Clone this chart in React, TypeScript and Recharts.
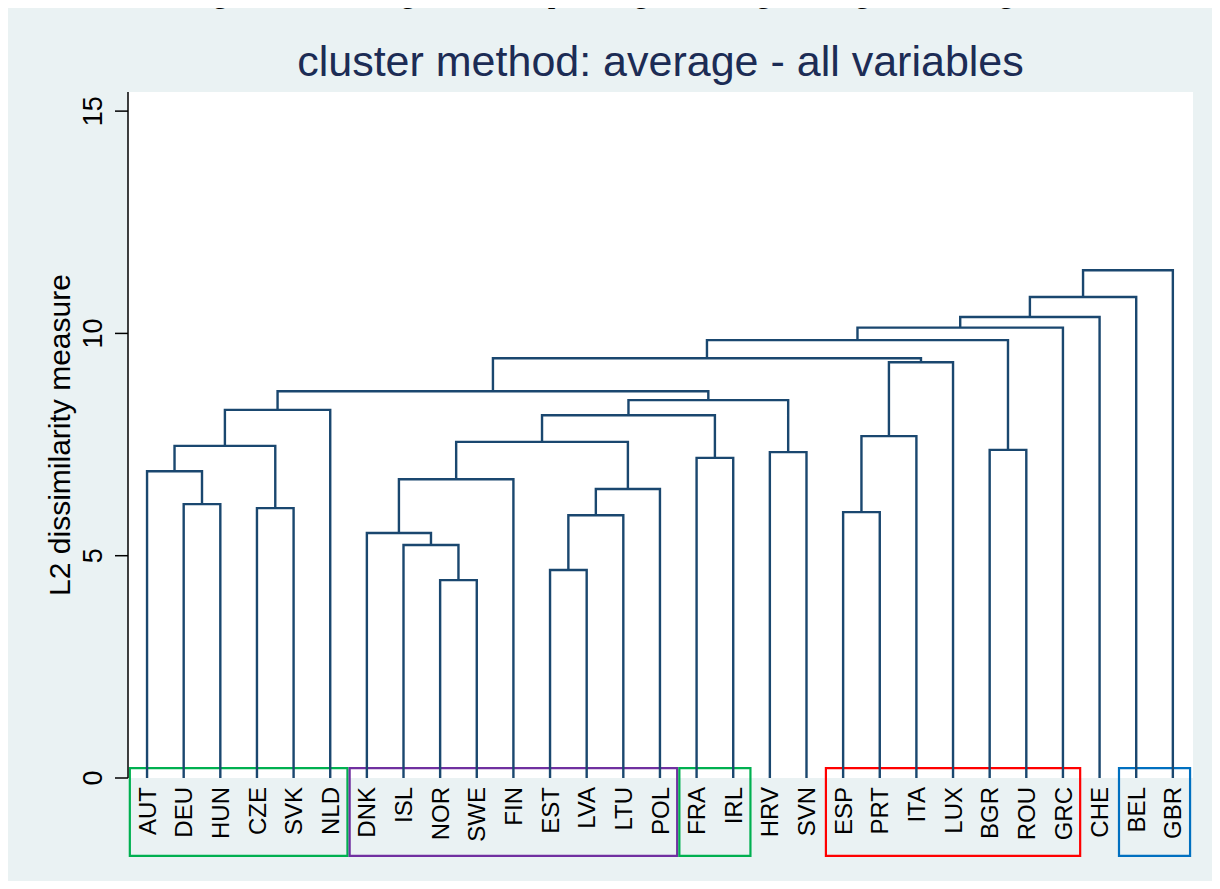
import { CartesianGrid, ComposedChart, Line, ReferenceArea, XAxis, YAxis } from "recharts";

const countries = [
  "AUT", "DEU", "HUN", "CZE", "SVK", "NLD", "DNK", "ISL", "NOR", "SWE", "FIN", "EST", "LVA", "LTU", "POL",
  "FRA", "IRL", "HRV", "SVN", "ESP", "PRT", "ITA", "LUX", "BGR", "ROU", "GRC", "CHE", "BEL", "GBR"
];

const yTicks = [0, 5, 10, 15];

// [left, right, height]: a child is a country code or "#k" for the k-th merge above it
const merges: [string, string, number][] = [
  ["DEU", "HUN", 6.16],
  ["AUT", "#0", 6.9],
  ["CZE", "SVK", 6.07],
  ["#1", "#2", 7.47],
  ["#3", "NLD", 8.28],
  ["NOR", "SWE", 4.45],
  ["ISL", "#5", 5.24],
  ["DNK", "#6", 5.51],
  ["#7", "FIN", 6.72],
  ["EST", "LVA", 4.68],
  ["#9", "LTU", 5.91],
  ["#10", "POL", 6.5],
  ["#8", "#11", 7.56],
  ["FRA", "IRL", 7.2],
  ["#12", "#13", 8.16],
  ["HRV", "SVN", 7.33],
  ["#14", "#15", 8.5],
  ["#4", "#16", 8.7],
  ["ESP", "PRT", 5.98],
  ["#18", "ITA", 7.69],
  ["#19", "LUX", 9.35],
  ["BGR", "ROU", 7.38],
  ["#17", "#20", 9.44],
  ["#22", "#21", 9.85],
  ["#23", "GRC", 10.13],
  ["#24", "CHE", 10.37],
  ["#25", "BEL", 10.82],
  ["#26", "GBR", 11.42]
];

const groups = [
  { first: "AUT", last: "NLD", color: "#00b050" },
  { first: "DNK", last: "POL", color: "#7030a0" },
  { first: "FRA", last: "IRL", color: "#00b050" },
  { first: "ESP", last: "GRC", color: "#ff0000" },
  { first: "BEL", last: "GBR", color: "#0070c0" }
];

const navy = "#1a476f";
const font = "'Liberation Sans', Arial, sans-serif";

function buildLinks() {
  const nodes: Record<string, { x: number; h: number }> = {};
  countries.forEach((c, i) => {
    nodes[c] = { x: i, h: 0 };
  });
  return merges.map(([a, b, h], k) => {
    const l = nodes[a];
    const r = nodes[b];
    nodes[`#${k}`] = { x: (l.x + r.x) / 2, h };
    return [
      { x: l.x, y: l.h },
      { x: l.x, y: h },
      { x: r.x, y: h },
      { x: r.x, y: r.h }
    ];
  });
}

const links = buildLinks();

function XTick({ x, y, payload }: any) {
  return (
    <text x={x} y={y} dy="0.36em" transform={`rotate(-90 ${x} ${y})`} textAnchor="end" fontSize={24} fontFamily={font} fill="#000">
      {countries[payload.value]}
    </text>
  );
}

function YTick({ x, y, payload }: any) {
  return (
    <text x={x} y={y} transform={`rotate(-90 ${x} ${y})`} textAnchor="middle" fontSize={27} fontFamily={font} fill="#000">
      {payload.value}
    </text>
  );
}

export default function App() {
  return (
    <div style={{ position: "relative", width: 1204, height: 873, background: "#eaf2f3" }}>
      {/* caption of the page above the figure, cut by the top edge as in the source */}
      <div
        style={{
          position: "absolute",
          left: 179,
          top: -32,
          fontFamily: "'Liberation Serif', 'Times New Roman', serif",
          fontSize: 31,
          lineHeight: "31px",
          whiteSpace: "nowrap",
          color: "#000"
        }}
      >
        Figure 5: Dendrogram corresponding to average linkage clustering
      </div>
      <div
        style={{
          position: "absolute",
          left: 120,
          width: 1065,
          top: 32,
          textAlign: "center",
          fontFamily: font,
          fontSize: 43,
          lineHeight: "43px",
          color: "#1c2c55",
          whiteSpace: "nowrap"
        }}
      >
        cluster method: average - all variables
      </div>
      <ComposedChart width={1204} height={873} margin={{ top: 84, right: 19, bottom: 22, left: 20 }}>
        <CartesianGrid fill="#ffffff" horizontal={false} vertical={false} />
        <XAxis
          allowDataOverflow
          axisLine={false}
          dataKey="x"
          domain={[-0.52, 28.55]}
          height={81}
          interval={0}
          tick={<XTick />}
          tickLine={false}
          tickMargin={9}
          tickSize={0}
          ticks={countries.map((_, i) => i)}
          type="number"
        />
        <YAxis
          allowDataOverflow
          axisLine={{ stroke: "#000", strokeWidth: 1.5 }}
          domain={[0, 15.43]}
          label={{
            value: "L2 dissimilarity measure",
            angle: -90,
            position: "insideLeft",
            offset: 31,
            style: { textAnchor: "middle", fontSize: 30, fontFamily: font, fill: "#000" }
          }}
          tick={<YTick />}
          tickLine={{ stroke: "#000", strokeWidth: 1.5 }}
          tickMargin={13}
          tickSize={13}
          ticks={yTicks}
          type="number"
          width={100}
        />
        {groups.map((g) => (
          <ReferenceArea
            key={g.first}
            fill="none"
            ifOverflow="visible"
            stroke={g.color}
            strokeWidth={2.2}
            x1={countries.indexOf(g.first) - 0.47}
            x2={countries.indexOf(g.last) + 0.47}
            y1={-1.75}
            y2={0.22}
          />
        ))}
        {links.map((seg, i) => (
          <Line
            key={i}
            data={seg}
            dataKey="y"
            dot={false}
            isAnimationActive={false}
            stroke={navy}
            strokeWidth={2.4}
            type="linear"
          />
        ))}
      </ComposedChart>
    </div>
  );
}
